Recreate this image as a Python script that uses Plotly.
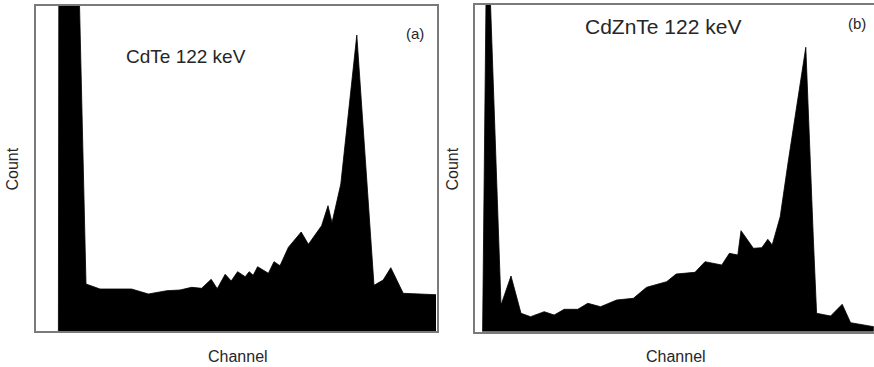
import plotly.graph_objects as go

# ---- Data (channel, count) ----
cdte_channel = [56, 57, 108, 125, 160, 239, 281, 327, 360, 389, 414, 438, 453, 473, 488,
                504, 523, 533, 543, 554, 581, 595, 610, 631, 663, 681, 714, 730, 740,
                762, 802, 833, 845, 868, 887, 918, 1000]
cdte_count = [0, 3400, 3400, 470, 420, 420, 370, 403, 410, 437, 427, 517, 423, 567, 500,
              593, 543, 593, 557, 643, 577, 693, 653, 837, 990, 867, 1053, 1253, 1083,
              1470, 2960, 1103, 457, 510, 633, 377, 363]

czt_channel = [19, 30, 65, 90, 115, 139, 173, 198, 223, 257, 282, 314, 354, 396, 429,
               479, 503, 550, 575, 617, 636, 657, 665, 696, 717, 732, 743, 763, 783,
               827, 846, 854, 889, 918, 939, 997]
czt_count = [0, 4290, 267, 557, 184, 150, 200, 167, 224, 224, 284, 250, 317, 334, 444,
             500, 577, 594, 700, 667, 784, 767, 1010, 834, 840, 924, 867, 1150, 1700,
             2844, 917, 184, 157, 274, 90, 50]

W, H = 874, 367
FONT = "Liberation Sans, Arial, sans-serif"
TXT = "#262626"
FRAME = "#7a7a7a"

fig = go.Figure()
fig.add_trace(go.Scatter(x=cdte_channel, y=cdte_count, mode="lines", fill="tozeroy",
                         fillcolor="black", line=dict(color="black", width=0.8),
                         xaxis="x", yaxis="y", hoverinfo="skip", showlegend=False))
fig.add_trace(go.Scatter(x=czt_channel, y=czt_count, mode="lines", fill="tozeroy",
                         fillcolor="black", line=dict(color="black", width=0.8),
                         xaxis="x2", yaxis="y2", hoverinfo="skip", showlegend=False))

ax_common = dict(showgrid=False, zeroline=False, showticklabels=False, ticks="",
                 showline=True, linecolor=FRAME, linewidth=1.5, fixedrange=True)

fig.update_layout(
    width=W, height=H,
    margin=dict(l=0, r=0, t=0, b=0),
    paper_bgcolor="white", plot_bgcolor="white",
    xaxis=dict(domain=[36 / W, 437 / W], range=[0, 1002.5], anchor="y", mirror=True, **ax_common),
    yaxis=dict(domain=[1 - 331 / H, 1 - 5.5 / H], range=[0, 3255], anchor="x", mirror=True, **ax_common),
    # panel (b) runs past the right edge of the picture: no right-hand border
    xaxis2=dict(domain=[475 / W, 1.0], range=[0, 997.5], anchor="y2", mirror=True, **ax_common),
    yaxis2=dict(domain=[1 - 331.7 / H, 1 - 5 / H], range=[0, 3267], anchor="x2", mirror=False, **ax_common),
)

def ann(text, px, py, size, angle=0):
    fig.add_annotation(text=text, x=px / W, y=1 - py / H, xref="paper", yref="paper",
                       xanchor="center", yanchor="middle", showarrow=False, textangle=angle,
                       font=dict(family=FONT, size=size, color=TXT))

ann("Count", 12, 169.5, 16, -90)
ann("Count", 452, 169.5, 16, -90)
ann("Channel", 237.5, 356, 16)
ann("Channel", 676, 356, 16)
ann("CdTe 122 keV", 185.5, 57, 19)
ann("CdZnTe 122 keV", 663, 26, 21)
ann("(a)", 414.5, 33, 15)
ann("(b)", 857, 24, 15)

fig.write_html("out.html")
